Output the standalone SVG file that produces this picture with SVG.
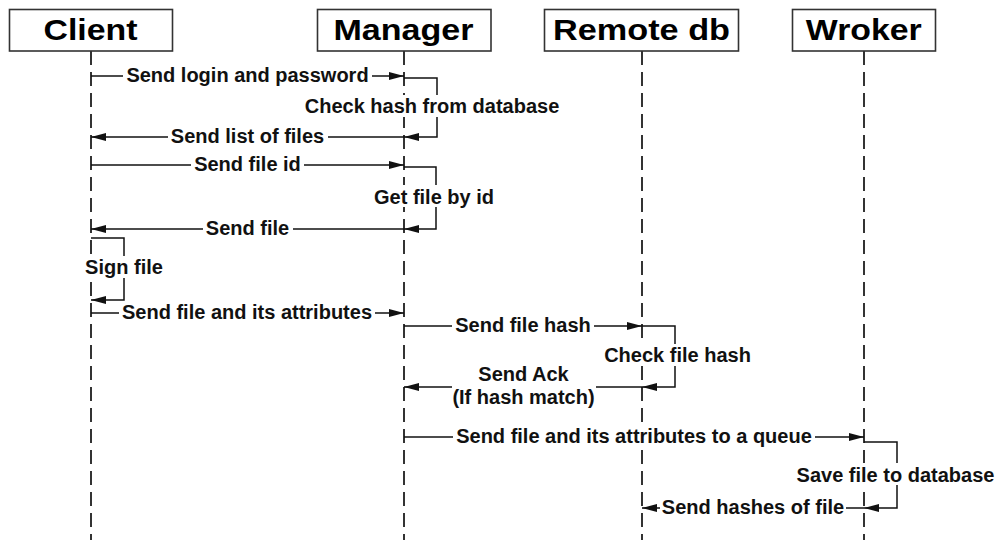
<svg xmlns="http://www.w3.org/2000/svg" width="995" height="540" viewBox="0 0 995 540">
  <style>
    .box { fill: #ffffff; stroke: #333333; stroke-width: 1.6; }
    .title { font-family: "Liberation Sans", Arial, sans-serif; font-weight: bold; font-size: 30px; fill: #000000; text-anchor: middle; }
    .life { stroke: #333333; stroke-width: 2; stroke-dasharray: 14 7; fill: none; }
    .msg { stroke: #111111; stroke-width: 1.5; fill: none; marker-end: url(#arrow); }
    .lbl { font-family: "Liberation Sans", Arial, sans-serif; font-weight: bold; font-size: 20px; fill: #111111; text-anchor: middle; }
    .bg { fill: #ffffff; stroke: none; }
  </style>
  <defs>
    <marker id="arrow" markerUnits="userSpaceOnUse" markerWidth="15" markerHeight="8" refX="15" refY="4" orient="auto">
      <path d="M0,0 L15,4 L0,8 z" fill="#111111"/>
    </marker>
  </defs>
  <rect x="0" y="0" width="995" height="540" fill="#ffffff"/>

  <g id="lifelines">
    <line class="life" x1="91" y1="51" x2="91" y2="540"/>
    <line class="life" x1="404" y1="51" x2="404" y2="540"/>
    <line class="life" x1="642" y1="51" x2="642" y2="540"/>
    <line class="life" x1="864" y1="51" x2="864" y2="540"/>
  </g>

  <g id="node-client">
    <rect class="box" x="9.5" y="9.5" width="163" height="41.5"/>
    <text class="title" x="90.5" y="39.5" textLength="94" lengthAdjust="spacingAndGlyphs">Client</text>
  </g>
  <g id="node-manager">
    <rect class="box" x="317.5" y="9.5" width="173.5" height="41.5"/>
    <text class="title" x="403.5" y="39.5" textLength="140" lengthAdjust="spacingAndGlyphs">Manager</text>
  </g>
  <g id="node-remotedb">
    <rect class="box" x="544.5" y="9.5" width="194" height="41.5"/>
    <text class="title" x="641.5" y="39.5" textLength="177" lengthAdjust="spacingAndGlyphs">Remote db</text>
  </g>
  <g id="node-worker">
    <rect class="box" x="792.5" y="9.5" width="143" height="41.5"/>
    <text class="title" x="863.8" y="39.5" textLength="116" lengthAdjust="spacingAndGlyphs">Wroker</text>
  </g>

  <g id="connectors">
    <path class="msg" d="M91,76 H404"/>
    <path class="msg" d="M404,78 H437 V137 H404"/>
    <path class="msg" d="M404,137 H91"/>
    <path class="msg" d="M91,165 H404"/>
    <path class="msg" d="M404,167 H436 V229 H404"/>
    <path class="msg" d="M404,229 H91"/>
    <path class="msg" d="M91,238 H124 V300 H91"/>
    <path class="msg" d="M91,313 H404"/>
    <path class="msg" d="M404,326 H642"/>
    <path class="msg" d="M642,326 H675 V387 H642"/>
    <path class="msg" d="M642,387 H404"/>
    <path class="msg" d="M404,437 H864"/>
    <path class="msg" d="M864,442 H897 V508 H864"/>
    <path class="msg" d="M864,508 H642"/>
  </g>

  <g id="labels">
    <rect class="bg" x="123" y="65" width="249" height="21"/>
    <text class="lbl" x="247.5" y="82">Send login and password</text>

    <rect class="bg" x="303" y="95" width="258" height="22"/>
    <text class="lbl" x="432" y="113">Check hash from database</text>

    <rect class="bg" x="168" y="126" width="160" height="21"/>
    <text class="lbl" x="247.5" y="143">Send list of files</text>

    <rect class="bg" x="191" y="154" width="113" height="21"/>
    <text class="lbl" x="247.5" y="171">Send file id</text>

    <rect class="bg" x="372" y="185" width="124" height="22"/>
    <text class="lbl" x="434" y="203.5">Get file by id</text>

    <rect class="bg" x="203" y="218" width="90" height="21"/>
    <text class="lbl" x="247.5" y="235">Send file</text>

    <rect class="bg" x="84" y="256" width="80" height="22"/>
    <text class="lbl" x="124" y="274">Sign file</text>

    <rect class="bg" x="119" y="302" width="256" height="21"/>
    <text class="lbl" x="247" y="319">Send file and its attributes</text>

    <rect class="bg" x="452" y="315" width="142" height="21"/>
    <text class="lbl" x="523" y="332">Send file hash</text>

    <rect class="bg" x="603" y="344" width="150" height="22"/>
    <text class="lbl" x="677.5" y="361.5">Check file hash</text>

    <rect class="bg" x="452" y="366" width="144" height="44"/>
    <text class="lbl" x="523.5" y="381">Send Ack</text>
    <text class="lbl" x="523.5" y="404">(If hash match)</text>

    <rect class="bg" x="453" y="426" width="362" height="21"/>
    <text class="lbl" x="634" y="443">Send file and its attributes to a queue</text>

    <rect class="bg" x="796" y="463" width="199" height="22"/>
    <text class="lbl" x="895.5" y="481.5">Save file to database</text>

    <rect class="bg" x="660" y="497" width="186" height="21"/>
    <text class="lbl" x="753" y="514">Send hashes of file</text>
  </g>
</svg>
